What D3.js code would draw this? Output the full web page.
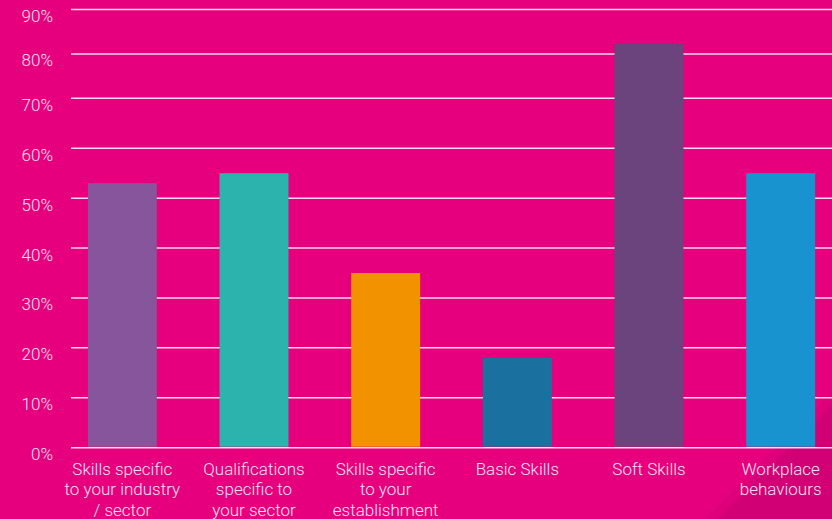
<!DOCTYPE html>
<html>
<head>
<meta charset="utf-8">
<script src="https://cdn.jsdelivr.net/npm/d3@7"></script>
<style>
  html, body { margin: 0; padding: 0; background: #e6007e; }
  svg { display: block; }
</style>
</head>
<body>
<div id="wrapper"></div>
<script>
const categories = [
  ["Skills specific", "to your industry", "/ sector"],
  ["Qualifications", "specific to", "your sector"],
  ["Skills specific", "to your", "establishment"],
  ["Basic Skills"],
  ["Soft Skills"],
  ["Workplace", "behaviours"],
];
const values = [0.53, 0.55, 0.35, 0.18, 0.823, 0.55];
const barColors = ["#87559c", "#2cb3ad", "#f39200", "#1a71a0", "#6b447e", "#1893cf"];
const ticks = [0, 0.1, 0.2, 0.3, 0.4, 0.5, 0.6, 0.7, 0.8, 0.9];

function buildChart() {
  const dimensions = { width: 832, height: 519 };
  const svg = d3.select("#wrapper").append("svg")
    .attr("width", dimensions.width)
    .attr("height", dimensions.height);

  svg.append("rect")
    .attr("width", dimensions.width)
    .attr("height", dimensions.height)
    .attr("fill", "#e6007e");

  // dark corner in the bottom right
  svg.append("polygon")
    .attr("points", "704,519 832,391 832,519")
    .attr("fill", "#dd007a");
  svg.append("polygon")
    .attr("points", "718,519 832,405 832,519")
    .attr("fill", "#d20075");

  const x = d3.scaleBand()
    .domain(d3.range(categories.length))
    .range([71, 832])
    .paddingInner(0.476)
    .paddingOuter(0.128);

  // the grid in the picture is a bit tighter above 70%
  const y = d3.scaleLinear()
    .domain([0, 0.7, 0.9])
    .range([447.7, 98.3, 9.5]);

  const textColor = "#fde3f0";

  // gridlines
  svg.append("g")
    .selectAll("line")
    .data(ticks)
    .join("line")
    .attr("x1", 71)
    .attr("x2", dimensions.width)
    .attr("y1", d => y(d))
    .attr("y2", d => y(d))
    .attr("stroke", "#fff")
    .attr("stroke-opacity", 0.85)
    .attr("stroke-width", 1.5);

  // y labels
  svg.append("g")
    .selectAll("text")
    .data(ticks)
    .join("text")
    .attr("x", 53)
    .attr("y", d => y(d) + 12.5)
    .attr("text-anchor", "end")
    .attr("fill", textColor)
    .attr("font-family", "Roboto, sans-serif")
    .attr("font-weight", 300)
    .attr("font-size", 17)
    .text(d => d3.format(".0%")(d));

  // bars
  svg.append("g")
    .selectAll("rect")
    .data(values)
    .join("rect")
    .attr("x", (d, i) => x(i))
    .attr("width", x.bandwidth())
    .attr("y", d => y(d))
    .attr("height", d => y(0) - 1 - y(d))
    .attr("fill", (d, i) => barColors[i]);

  // category labels
  const labels = svg.append("g")
    .selectAll("text")
    .data(categories)
    .join("text")
    .attr("x", (d, i) => x(i) + x.bandwidth() / 2)
    .attr("y", 474.5)
    .attr("text-anchor", "middle")
    .attr("fill", textColor)
    .attr("font-family", "Roboto, sans-serif")
    .attr("font-weight", 300)
    .attr("font-size", 17);

  labels.selectAll("tspan")
    .data(d => d)
    .join("tspan")
    .attr("x", function () { return d3.select(this.parentNode).attr("x"); })
    .attr("dy", (d, i) => (i === 0 ? 0 : 20.5))
    .text(d => d);
}

buildChart();
</script>
</body>
</html>
